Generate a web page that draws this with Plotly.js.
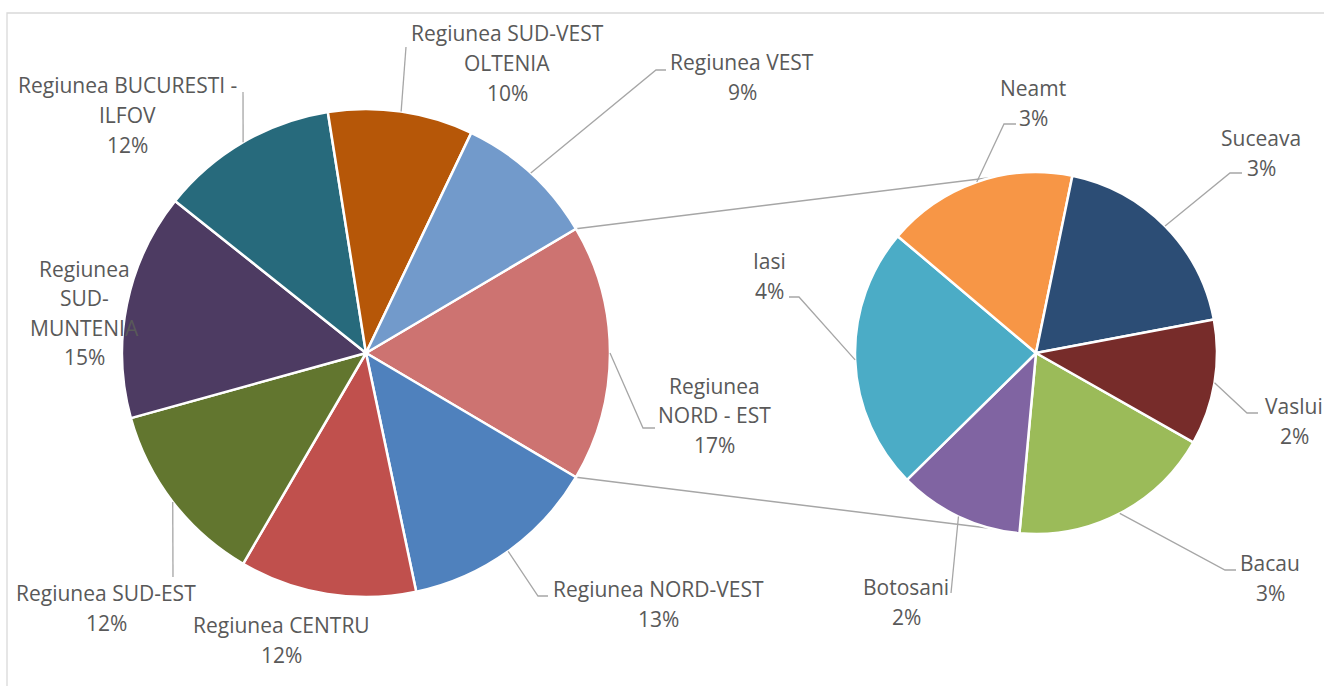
<!DOCTYPE html>
<html>
<head>
<meta charset="utf-8">
<script src="https://cdn.plot.ly/plotly-3.0.1.min.js"></script>
<style>
  html, body { margin: 0; padding: 0; background: #fff; }
  #chart { width: 1324px; height: 686px; }
</style>
</head>
<body>
<div id="chart"></div>
<script>
"use strict";

// main pie (NORD - EST is split out into the second pie)
const regions = ["Regiunea NORD-VEST", "Regiunea CENTRU", "Regiunea SUD-EST", "Regiunea SUD-MUNTENIA",
  "Regiunea BUCURESTI - ILFOV", "Regiunea SUD-VEST OLTENIA", "Regiunea VEST"];
const regionValues = [13.2, 11.7, 12.3, 15.0, 11.8, 9.6, 9.4];
const splitRegion = "Regiunea NORD - EST";

// second pie: counties of NORD - EST
const counties = ["Bacau", "Botosani", "Iasi", "Neamt", "Suceava", "Vaslui"];
const countyValues = [3.1, 1.9, 4.0, 2.9, 3.2, 1.9];

const regionColors = ["#CD7371", "#4F81BD", "#C0504D", "#62762F", "#4D3B62", "#276A7C", "#B65708", "#729ACB"];
const countyColors = ["#9BBB59", "#8064A2", "#4BACC6", "#F79646", "#2C4D75", "#772C2A"];

const W = 1324, H = 686;
const main = { cx: 366, cy: 353, r: 244 };
const side = { cx: 1036, cy: 353, r: 181, rotation: 119.6 };
const LINE_H = 29.5;
const TEXT = "#595959", LEADER = "#A6A6A6";

// label placement (pixels): text block centre, and leader line points from the slice outward
const labelSpec = {
  "Regiunea NORD - EST": { at: [714, 415], lines: ["Regiunea", "NORD - EST"], lead: [[643, 428], [655, 428]] },
  "Regiunea NORD-VEST": { at: [658, 604], lead: [[538, 596], [548, 596]] },
  "Regiunea CENTRU": { at: [281, 640] },
  "Regiunea SUD-EST": { at: [106, 608], lead: [[173, 577]] },
  "Regiunea SUD-MUNTENIA": { at: [84, 313], lines: ["Regiunea", "SUD-", "MUNTENIA"] },
  "Regiunea BUCURESTI - ILFOV": { at: [127, 115], lines: ["Regiunea BUCURESTI -", "ILFOV"], lead: [[243, 92]] },
  "Regiunea SUD-VEST OLTENIA": { at: [507, 63], lines: ["Regiunea SUD-VEST", "OLTENIA"], lead: [[406, 47]] },
  "Regiunea VEST": { at: [742, 77], lead: [[656, 70], [666, 70]] },
  "Bacau": { at: [1270, 578], lead: [[1225, 570], [1236, 570]] },
  "Botosani": { at: [906, 602], lead: [[951, 593]] },
  "Iasi": { at: [769, 276], lead: [[799, 297], [789, 297]] },
  "Neamt": { at: [1033, 103], lead: [[1004, 124], [1016, 124]] },
  "Suceava": { at: [1261, 153], lead: [[1230, 173], [1242, 173]] },
  "Vaslui": { at: [1294, 421], lead: [[1247, 413], [1258, 413]] },
};

const px = x => x / W;
const py = y => 1 - y / H;

const neValue = countyValues.reduce((a, b) => a + b, 0);
const mainLabels = [splitRegion, ...regions];
const mainValues = [neValue, ...regionValues];
const grandTotal = mainValues.reduce((a, b) => a + b, 0);
// centre the split slice on 3 o'clock
const mainRotation = 90 - (neValue / grandTotal) * 180;
main.rotation = mainRotation;

const pct = v => Math.round(v / grandTotal * 100) + "%";

// clockwise angle from 12 o'clock -> pixel on circle
function onCircle(pie, deg, rr) {
  const a = deg * Math.PI / 180;
  const r = rr == null ? pie.r : rr;
  return [pie.cx + r * Math.sin(a), pie.cy - r * Math.cos(a)];
}
function midAngles(values, rotation) {
  const tot = values.reduce((a, b) => a + b, 0);
  let acc = rotation;
  return values.map(v => {
    const d = v / tot * 360;
    const m = acc + d / 2;
    acc += d;
    return m;
  });
}
function domainOf(pie) {
  return {
    x: [px(pie.cx - pie.r), px(pie.cx + pie.r)],
    y: [py(pie.cy + pie.r), py(pie.cy - pie.r)],
  };
}

const traces = [
  {
    type: "pie", labels: mainLabels, values: mainValues, sort: false,
    direction: "clockwise", rotation: mainRotation, textinfo: "none",
    marker: { colors: regionColors, line: { color: "#fff", width: 2.5 } },
    domain: domainOf(main), showlegend: false, hoverinfo: "label+percent",
  },
  {
    type: "pie", labels: counties, values: countyValues, sort: false,
    direction: "clockwise", rotation: side.rotation, textinfo: "none",
    marker: { colors: countyColors, line: { color: "#fff", width: 2.5 } },
    domain: domainOf(side), showlegend: false, hoverinfo: "label+value",
  },
];

const shapes = [];
// chart frame (only left and top edges fall inside the picture)
shapes.push({
  type: "rect", xref: "paper", yref: "paper", layer: "below",
  x0: px(7), y0: py(13), x1: px(1340), y1: py(700),
  line: { color: "#D9D9D9", width: 1.3 }, fillcolor: "rgba(0,0,0,0)",
});
// connectors from the split slice edges to the top / bottom of the second pie
const neDeg = neValue / grandTotal * 360;
const cTop = onCircle(main, mainRotation), cBot = onCircle(main, mainRotation + neDeg);
[[cTop, [side.cx, side.cy - side.r]], [cBot, [side.cx, side.cy + side.r]]].forEach(([a, b]) => {
  shapes.push({
    type: "line", xref: "paper", yref: "paper", layer: "below",
    x0: px(a[0]), y0: py(a[1]), x1: px(b[0]), y1: py(b[1]),
    line: { color: LEADER, width: 1.5 },
  });
});

const annotations = [];
function addLabels(pie, names, values) {
  const mids = midAngles(values, pie.rotation);
  names.forEach((name, i) => {
    const spec = labelSpec[name];
    if (!spec) return;
    if (spec.lead) {
      const pts = [onCircle(pie, mids[i]), ...spec.lead];
      const d = pts.map((p, k) => (k ? "L" : "M") + px(p[0]) + "," + py(p[1])).join(" ");
      shapes.push({ type: "path", xref: "paper", yref: "paper", path: d, line: { color: LEADER, width: 1.3 } });
    }
    const lines = [...(spec.lines || [name]), pct(values[i])];
    lines.forEach((t, k) => {
      annotations.push({
        xref: "paper", yref: "paper", showarrow: false,
        x: px(spec.at[0]), y: py(spec.at[1] + (k - (lines.length - 1) / 2) * LINE_H),
        xanchor: "center", yanchor: "middle", text: t,
        font: { family: "Open Sans, sans-serif", size: 21, color: TEXT },
      });
    });
  });
}
addLabels(main, mainLabels, mainValues);
addLabels(side, counties, countyValues);

const layout = {
  width: W, height: H,
  margin: { l: 0, r: 0, t: 0, b: 0 },
  paper_bgcolor: "#fff",
  shapes, annotations,
  showlegend: false,
};

Plotly.newPlot("chart", traces, layout, { displayModeBar: false, staticPlot: true });
</script>
</body>
</html>
